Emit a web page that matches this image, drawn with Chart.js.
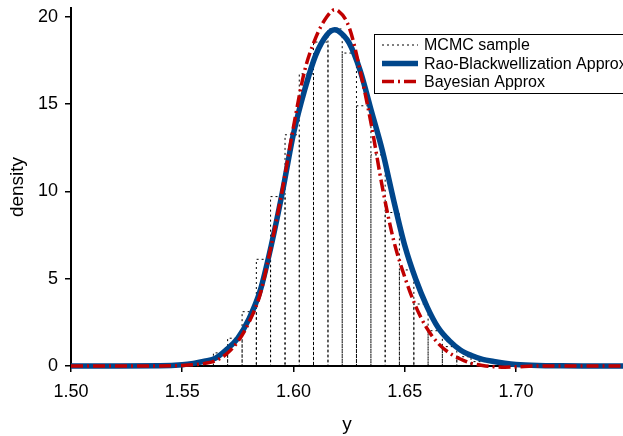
<!DOCTYPE html>
<html>
<head>
<meta charset="utf-8">
<script src="https://cdn.jsdelivr.net/npm/chart.js@4"></script>
<style>
  html, body { margin: 0; padding: 0; background: #fff; }
  #wrap { width: 623px; height: 436px; }
</style>
</head>
<body>
<div id="wrap"><canvas id="chart" width="623" height="436"></canvas></div>
<script>
// histogram of the MCMC sample (bin edges + density per bin)
const binEdges = [1.5576, 1.5640, 1.5704, 1.5769, 1.5833, 1.5897, 1.5962, 1.6026, 1.6090, 1.6155,
  1.6219, 1.6283, 1.6348, 1.6412, 1.6476, 1.6541, 1.6605, 1.6669, 1.6734, 1.6798, 1.6862];
const binDensity = [0.3, 0.75, 1.59, 3.11, 6.11, 9.70, 13.24, 16.73, 18.55, 19.3,
  17.92, 14.9, 12.09, 8.79, 5.50, 3.55, 2.02, 1.11, 0.53, 0.25];

// density curves
const yGrid = [1.50, 1.52, 1.54, 1.55, 1.555, 1.56, 1.565, 1.57, 1.575, 1.58, 1.585, 1.59, 1.595,
  1.60, 1.605, 1.61, 1.615, 1.6185, 1.62, 1.625, 1.63, 1.635, 1.64, 1.645, 1.65, 1.655, 1.66, 1.665,
  1.67, 1.675, 1.68, 1.685, 1.69, 1.695, 1.70, 1.71, 1.72, 1.73, 1.75];
const raoBlackwell = [0, 0, 0.01, 0.07, 0.15, 0.27, 0.45, 0.95, 1.6, 2.7, 4.3, 6.9, 9.95,
  13.3, 15.8, 17.8, 18.95, 19.25, 19.2, 18.5, 16.9, 14.6, 12.3, 9.5, 6.9, 4.95, 3.4, 2.2,
  1.45, 0.92, 0.6, 0.38, 0.26, 0.16, 0.09, 0.03, 0.01, 0, 0];
const bayesApprox = [0, 0, 0, 0.03, 0.07, 0.15, 0.3, 0.7, 1.4, 2.5, 4.1, 6.9, 10.1,
  13.7, 16.9, 18.8, 20.0, 20.4, 20.35, 19.4, 16.9, 13.8, 10.2, 7.2, 5.1, 3.4, 2.15, 1.3,
  0.75, 0.4, 0.15, 0.03, -0.04, -0.07, -0.05, 0, 0, 0, 0];

const xTicks = [1.50, 1.55, 1.60, 1.65, 1.70];
const yTicks = [0, 5, 10, 15, 20];
const seriesNames = ["MCMC sample", "Rao-Blackwellization Approx", "Bayesian Approx"];

const BLUE = "#00468B";
const RED = "#C00000";
const FONT = "'Liberation Sans', Arial, sans-serif";

// outline of the histogram: every bar edge drawn down to zero
let histPts = [{x: binEdges[0], y: 0}];
for (let i = 0; i < binDensity.length; i++) {
  histPts.push({x: binEdges[i], y: binDensity[i]});
  histPts.push({x: binEdges[i + 1], y: binDensity[i]});
  histPts.push({x: binEdges[i + 1], y: 0});
}
let bluePts = yGrid.map((v, i) => ({x: v, y: raoBlackwell[i]}));
let redPts = yGrid.map((v, i) => ({x: v, y: bayesApprox[i]}));

// legend box in the upper right, partly cut by the canvas edge
const boxLegend = {
  id: "boxLegend",
  afterDatasetsDraw(chart) {
    const ctx = chart.ctx;
    const ds = chart.data.datasets;
    ctx.save();
    ctx.fillStyle = "#fff";
    ctx.fillRect(374, 34, 260, 59);
    ctx.strokeStyle = "#000";
    ctx.lineWidth = 1;
    ctx.strokeRect(374.5, 34.5, 260, 59);
    const rows = [45, 63.5, 81.5];
    ds.forEach((d, i) => {
      ctx.beginPath();
      ctx.strokeStyle = d.borderColor;
      ctx.lineWidth = d.borderWidth;
      ctx.setLineDash(d.borderDash || []);
      ctx.moveTo(382, rows[i]);
      ctx.lineTo(418, rows[i]);
      ctx.stroke();
      ctx.setLineDash([]);
      ctx.fillStyle = "#000";
      ctx.font = "16px " + FONT;
      ctx.textBaseline = "middle";
      ctx.fillText(d.label, 424, rows[i] + 1);
    });
    ctx.restore();
  }
};

new Chart(document.querySelector("#chart"), {
  type: "scatter",
  data: {
    datasets: [
      {
        label: seriesNames[0],
        data: histPts,
        showLine: true,
        borderColor: "#000",
        borderWidth: 1,
        borderDash: [2, 3],
        pointRadius: 0,
        tension: 0,
        order: 3,
      },
      {
        label: seriesNames[1],
        data: bluePts,
        showLine: true,
        borderColor: BLUE,
        borderWidth: 5.5,
        pointRadius: 0,
        cubicInterpolationMode: "monotone",
        clip: 8,
        order: 2,
      },
      {
        label: seriesNames[2],
        data: redPts,
        showLine: true,
        borderColor: RED,
        borderWidth: 3.5,
        borderDash: [12, 4, 2, 4],
        pointRadius: 0,
        cubicInterpolationMode: "monotone",
        clip: 8,
        order: 1,
      },
    ]
  },
  options: {
    responsive: false,
    animation: false,
    devicePixelRatio: 1,
    layout: { padding: { top: 8, right: 0, left: 0, bottom: 0 } },
    plugins: {
      legend: { display: false },
      tooltip: { enabled: false },
    },
    scales: {
      x: {
        type: "linear",
        min: 1.50,
        max: 1.7481,
        afterBuildTicks: (s) => { s.ticks = xTicks.map(v => ({value: v})); },
        afterFit: (s) => { s.height = 70; s.paddingLeft = 0; s.paddingRight = 0; },
        ticks: {
          color: "#000",
          font: { family: FONT, size: 18 },
          padding: 9,
          maxRotation: 0,
          callback: (v) => Number(v).toFixed(2),
        },
        grid: { drawOnChartArea: false, drawTicks: true, tickLength: 6, color: "#000", lineWidth: 1.5 },
        border: { color: "#000", width: 2 },
        title: {
          display: true,
          text: "y",
          color: "#000",
          font: { family: FONT, size: 19 },
          padding: { top: 0, bottom: 0 },
        },
      },
      y: {
        type: "linear",
        min: 0,
        max: 20.5,
        afterBuildTicks: (s) => { s.ticks = yTicks.map(v => ({value: v})); },
        afterFit: (s) => { s.width = 71; s.paddingTop = 0; s.paddingBottom = 0; },
        ticks: {
          color: "#000",
          font: { family: FONT, size: 18 },
          padding: 7,
        },
        grid: { drawOnChartArea: false, drawTicks: true, tickLength: 6, color: "#000", lineWidth: 1.5 },
        border: { color: "#000", width: 2 },
        title: {
          display: true,
          text: "density",
          color: "#000",
          font: { family: FONT, size: 19 },
          padding: { top: 6, bottom: 0 },
        },
      },
    },
  },
  plugins: [boxLegend],
});
</script>
</body>
</html>
